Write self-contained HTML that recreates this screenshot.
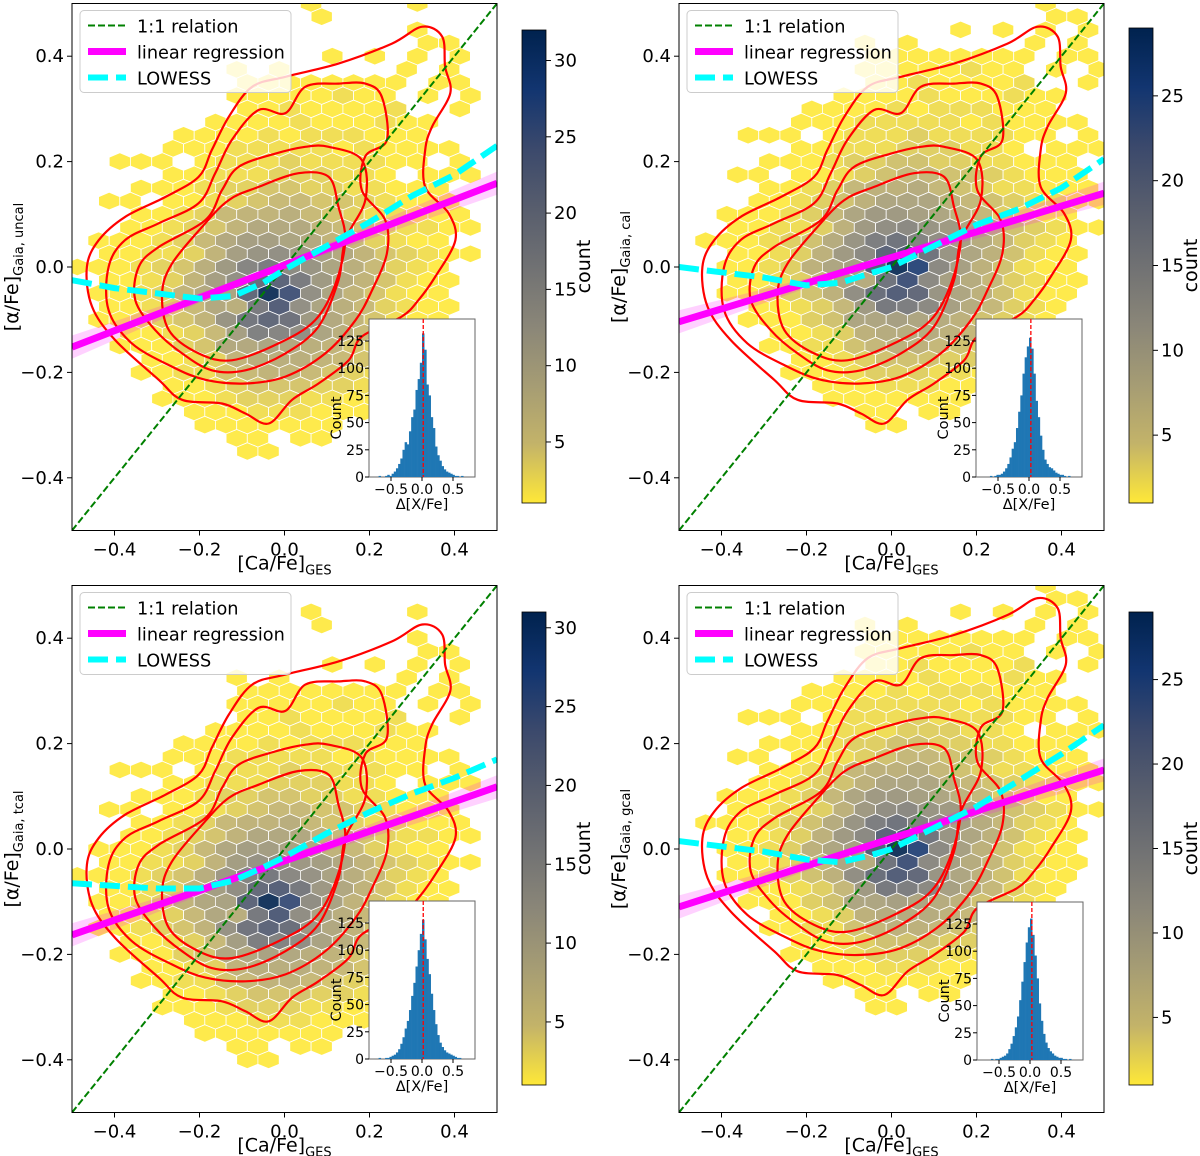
<!DOCTYPE html>
<html><head><meta charset="utf-8"><style>
html,body{margin:0;padding:0;background:#fff}
svg{display:block;font-family:"DejaVu Sans","Liberation Sans",sans-serif}
</style></head><body>
<svg id="fig" width="1200" height="1156" viewBox="0 0 1200 1156" xmlns="http://www.w3.org/2000/svg">
<defs>
<linearGradient id="cmap" x1="0" y1="1" x2="0" y2="0">
<stop offset="0" stop-color="#fee838"/><stop offset="0.125" stop-color="#c3b369"/><stop offset="0.25" stop-color="#a59c74"/><stop offset="0.375" stop-color="#8a8678"/><stop offset="0.5" stop-color="#707173"/><stop offset="0.625" stop-color="#575d6d"/><stop offset="0.75" stop-color="#3b496c"/><stop offset="0.875" stop-color="#123570"/><stop offset="1" stop-color="#00224e"/>
</linearGradient>
</defs>
</svg>
<script>
// ---- data ----
const hexRowsP1 = ["00000000000100001000","00000000000100000000","00000000000000001000","00000000000000001100","00000000000010101010","00000001010000010100","00000000111111110110","00000001111121101010","00000000112111120010","00000011112111211000","00000111121222111000","00001112222212111100","00111012223222211010","00001122233322101110","00011123344332211100","01101123455443211100","00011235667543221110","00112346888654322110","01112358aa9865321100","0112236acdba86432110","1112347bfhec97532100","011236adkmhb86421100","01123689lwpd96421100","01123587hnd975321100","0112346ciljb86421100","0011235agfd975321000","00111348898764321000","00011236777654221000","00011224566543211000","00001123444332110000","00001112333221110000","00000111222111100000","00000011111110000000","00000001101100000000","00000000110000000000","00000000000000000000","00000000000000000000","00000000000000000000","00000000000000000000","00000000000000000000","00000000000000000000"];
const hexRowsP2 = ["00000000000000000100","00000000000000000110","00000000000001010101","00000000101000001010","00000000011111111011","00000000111112110101","00000000011211112001","00000001111211121100","00000011112122211100","00000111222221211110","00011101222322221101","00000112223332210111","00001112334433221110","00110112345544321110","00001123566754322111","00011234688865432211","001112358aa986532110","00112236acdba8643211","01112347bfhec9753210","0011236adkmhb8642110","001123689ltpd9642110","001123587hnd97532110","00112346ciljb8642110","00011235agfd97532100","00011134889876432100","00001123677765422100","00001122456654321100","00000112344433211000","00000111233322111000","00000011122211110000","00000001111111000000","00000000110110000000","00000000011000000000","00000000000000000000","00000000000000000000","00000000000000000000","00000000000000000000","00000000000000000000","00000000000000000000","00000000000000000000","00000000000000000000"];
const hexRowsP3 = ["00000000000000000000","00000000000000000000","00000000000100001000","00000000000100000000","00000000000000001000","00000000000000001100","00000000000010101010","00000001010000010100","00000000111111110110","00000001111121101010","00000000112111120010","00000011112111211000","00000111121222111000","00001112222212111100","00111012223222211010","00001122233322101110","00011123344332211100","01101123455443211100","00011235667543221110","00112346888654322110","01112358aa9865321100","0112236acdba86432110","1112347bfhec97532100","011236adkmhb86421100","01123689lvpd96421100","01123587hnd975321100","0112346ciljb86421100","0011235agfd975321000","00111348898764321000","00011236777654221000","00011224566543211000","00001123444332110000","00001112333221110000","00000111222111100000","00000011111110000000","00000001101100000000","00000000110000000000","00000000000000000000","00000000000000000000","00000000000000000000","00000000000000000000"];
const hexRowsP4 = hexRowsP2;

const contourOuter = [[0.324,0.456],[0.371,0.437],[0.378,0.38],[0.39,0.33],[0.347,0.266],[0.331,0.222],[0.331,0.152],[0.386,0.102],[0.402,0.051],[0.355,-0.018],[0.316,-0.062],[0.276,-0.094],[0.182,-0.132],[0.151,-0.177],[0.08,-0.221],[0.018,-0.252],[-0.037,-0.297],[-0.092,-0.278],[-0.147,-0.259],[-0.241,-0.252],[-0.296,-0.214],[-0.398,-0.139],[-0.453,-0.075],[-0.465,0.0],[-0.437,0.051],[-0.375,0.095],[-0.28,0.133],[-0.202,0.171],[-0.171,0.222],[-0.131,0.285],[-0.076,0.342],[0.002,0.361],[0.127,0.386],[0.253,0.424]];
const contourMid = [[0.229,0.323],[0.241,0.241],[0.19,0.21],[0.182,0.146],[0.237,0.089],[0.241,0.026],[0.206,-0.044],[0.167,-0.101],[0.096,-0.164],[0.002,-0.208],[-0.092,-0.221],[-0.186,-0.214],[-0.265,-0.189],[-0.359,-0.145],[-0.414,-0.082],[-0.414,0.0],[-0.375,0.051],[-0.296,0.083],[-0.202,0.121],[-0.163,0.178],[-0.124,0.241],[-0.061,0.298],[0.002,0.292],[0.049,0.342],[0.127,0.348],[0.19,0.348]];
const contourThird = [[0.104,0.228],[0.182,0.203],[0.19,0.127],[0.143,0.051],[0.127,-0.025],[0.08,-0.113],[0.002,-0.164],[-0.092,-0.196],[-0.171,-0.196],[-0.241,-0.164],[-0.304,-0.12],[-0.351,-0.063],[-0.343,0.0],[-0.296,0.038],[-0.186,0.089],[-0.147,0.146],[-0.108,0.19],[-0.022,0.215],[0.049,0.228]];
const contourInner = [[0.104,0.171],[0.127,0.114],[0.143,0.051],[0.12,-0.032],[0.072,-0.101],[-0.014,-0.145],[-0.124,-0.177],[-0.202,-0.164],[-0.272,-0.12],[-0.288,-0.05],[-0.265,0.006],[-0.194,0.076],[-0.131,0.127],[-0.061,0.152],[0.033,0.178]];

const regEndsP1 = [-0.152, 0.159];
const regEndsP2 = [-0.104, 0.14];
const regEndsP3 = [-0.163, 0.118];
const regEndsP4 = [-0.11, 0.15];
const lowessX = [-0.5,-0.4,-0.3,-0.2,-0.12,-0.05,0.0,0.1,0.2,0.3,0.4,0.5];
const lowessP1 = [-0.025,-0.04,-0.05,-0.06,-0.055,-0.03,-0.005,0.04,0.085,0.135,0.175,0.23];
const lowessP2 = [0.0,-0.01,-0.02,-0.035,-0.03,-0.012,0.0,0.04,0.08,0.11,0.15,0.205];
const lowessP3 = [-0.065,-0.07,-0.075,-0.075,-0.06,-0.035,-0.015,0.03,0.07,0.105,0.135,0.17];
const lowessP4 = [0.015,0.005,-0.005,-0.02,-0.025,-0.012,0.0,0.04,0.08,0.13,0.18,0.235];

const histCountsP1 = [1,0,0,1,2,1,3,5,8,12,17,25,32,30,42,55,62,80,90,105,132,117,85,75,55,45,28,20,15,10,7,5,4,3,2,1,1,0,1,0];
const histCountsP2 = [0,0,1,0,1,2,2,3,5,8,12,18,26,32,45,60,75,95,110,120,128,118,95,70,55,38,25,16,12,9,8,6,4,3,2,2,1,0,1,0];
const histCountsP3 = [1,0,0,1,1,2,3,4,6,9,14,20,28,35,45,58,70,85,100,115,128,110,92,78,60,45,32,22,15,11,8,6,5,4,3,2,1,1,0,0];
const histCountsP4 = [0,0,1,0,1,1,2,3,4,6,10,15,22,30,40,55,72,90,108,122,130,115,96,75,52,36,24,16,11,8,6,4,3,2,2,1,1,0,1,0];
const histMeans = [0.02, 0.03, 0.02, 0.03];
const xTicks = [-0.4,-0.2,0.0,0.2,0.4];
const xTickLabels = ["\u22120.4","\u22120.2","0.0","0.2","0.4"];
const yTicks = [-0.4,-0.2,0.0,0.2,0.4];
const yTickLabels = ["\u22120.4","\u22120.2","0.0","0.2","0.4"];
const histYTicks = [0,25,50,75,100,125];
const histXTicks = [-0.5,0.0,0.5];
const histXTickLabels = ["\u22120.5","0.0","0.5"];

// ---- layout ----
const NS = "http://www.w3.org/2000/svg";
const svg = document.getElementById('fig');
function mk(tag, attrs, parent) {
  const e = document.createElementNS(NS, tag);
  for (const k in attrs) e.setAttribute(k, attrs[k]);
  (parent || svg).appendChild(e);
  return e;
}
const cmapStops = ["#fee838","#c3b369","#a59c74","#8a8678","#707173","#575d6d","#3b496c","#123570","#00224e"];
function hex2rgb(h){return [parseInt(h.substr(1,2),16),parseInt(h.substr(3,2),16),parseInt(h.substr(5,2),16)];}
function cmap(t){
  t=Math.max(0,Math.min(1,t));
  const p=t*(cmapStops.length-1), i=Math.min(Math.floor(p),cmapStops.length-2), f=p-i;
  const a=hex2rgb(cmapStops[i]), b=hex2rgb(cmapStops[i+1]);
  return 'rgb('+a.map((v,j)=>Math.round(v+(b[j]-v)*f)).join(',')+')';
}
function charCount(c){ if(c>='0'&&c<='9') return +c; return c.charCodeAt(0)-87; }
function catmull(pts){
  let d='';
  const n=pts.length;
  for(let i=0;i<n;i++){
    const p0=pts[(i-1+n)%n],p1=pts[i],p2=pts[(i+1)%n],p3=pts[(i+2)%n];
    if(i===0) d+='M'+p1[0].toFixed(1)+','+p1[1].toFixed(1);
    const c1=[p1[0]+(p2[0]-p0[0])/6,p1[1]+(p2[1]-p0[1])/6];
    const c2=[p2[0]-(p3[0]-p1[0])/6,p2[1]-(p3[1]-p1[1])/6];
    d+='C'+c1[0].toFixed(1)+','+c1[1].toFixed(1)+' '+c2[0].toFixed(1)+','+c2[1].toFixed(1)+' '+p2[0].toFixed(1)+','+p2[1].toFixed(1);
  }
  return d+'Z';
}

const panels = [
 {left:72, top:3.5, rows:hexRowsP1, vmax:32, cbX:522, cbTop:30, cbBot:503, cbTicks:[5,10,15,20,25,30], sub:'Gaia, uncal', reg:regEndsP1, low:lowessP1, hist:histCountsP1, cdx:0, cdy:0, inL:369, inT:319},
 {left:679, top:3.5, rows:hexRowsP2, vmax:29, cbX:1129, cbTop:28, cbBot:503, cbTicks:[5,10,15,20,25], sub:'Gaia, cal', reg:regEndsP2, low:lowessP2, hist:histCountsP2, cdx:0.02, cdy:0.0, inL:976, inT:319},
 {left:72, top:585.5, rows:hexRowsP3, vmax:31, cbX:522, cbTop:612, cbBot:1085, cbTicks:[5,10,15,20,25,30], sub:'Gaia, tcal', reg:regEndsP3, low:lowessP3, hist:histCountsP3, cdx:0.0, cdy:-0.03, inL:369, inT:901},
 {left:679, top:585.5, rows:hexRowsP4, vmax:29, cbX:1129, cbTop:612, cbBot:1085, cbTicks:[5,10,15,20,25], sub:'Gaia, gcal', reg:regEndsP4, low:lowessP4, hist:histCountsP4, cdx:0.02, cdy:0.02, inL:977, inT:902}
];
const W=425, H=527;

panels.forEach((P,pi)=>{
  const g = mk('g',{});
  
  
  const sx = v => P.left + (v+0.5)*W;
  const sy = v => P.top + (0.5-v)*H;
  const clipId='clip'+pi;
  const cp=mk('clipPath',{id:clipId},g);
  mk('rect',{x:P.left,y:P.top,width:W,height:H},cp);
  const plot=mk('g',{'clip-path':'url(#'+clipId+')'},g);
  
  
  const R=0.025*H/1.5, hw=0.025*W;
  P.rows.forEach((row,i)=>{
    const r=22-i;
    const yv=-0.05+0.025*r;
    const x0=(r%2===0)?-0.4875:-0.4625;
    for(let k=0;k<row.length;k++){
      const c=charCount(row[k]);
      if(c<=0) continue;
      const cx=sx(x0+0.05*k), cy=sy(yv);
      const pts=[[cx,cy-R],[cx+hw,cy-R/2],[cx+hw,cy+R/2],[cx,cy+R],[cx-hw,cy+R/2],[cx-hw,cy-R/2]].map(p=>p[0].toFixed(1)+','+p[1].toFixed(1)).join(' ');
      const h=mk('polygon',{points:pts,fill:cmap((c-1)/(P.vmax-1)),stroke:'#fff','stroke-width':0.8,'fill-opacity':0.9},plot);
      
      
    }
  });
  const bandW=[0.022,0.004,0.022];
  const bx=[-0.5,-0.08,0.5];
  const regY = x => P.reg[0]+(x+0.5)*(P.reg[1]-P.reg[0]);
  const up=bx.map((x,j)=>sx(x)+','+sy(regY(x)+bandW[j]));
  const dn=bx.slice().reverse().map((x,j)=>sx(x)+','+sy(regY(x)-bandW[bandW.length-1-j]));
  const band=mk('polygon',{points:up.concat(dn).join(' '),fill:'#ff00ff','fill-opacity':0.18},plot);
  
  
  [contourOuter,contourMid,contourThird,contourInner].forEach((C,ci)=>{
    const pts=C.map(p=>[sx(p[0]+P.cdx),sy(p[1]+P.cdy)]);
    const c=mk('path',{d:catmull(pts),fill:'none',stroke:'#ff0000','stroke-width':2.2},plot);
    
    
  });
  const l1=mk('line',{x1:sx(-0.5),y1:sy(-0.5),x2:sx(0.5),y2:sy(0.5),stroke:'#008000','stroke-width':2,'stroke-dasharray':'7,3'},plot);
  
  
  const rl=mk('line',{x1:sx(-0.5),y1:sy(P.reg[0]),x2:sx(0.5),y2:sy(P.reg[1]),stroke:'#ff00ff','stroke-width':7},plot);
  
  
  const lw=mk('polyline',{points:lowessX.map((x,j)=>sx(x).toFixed(1)+','+sy(P.low[j]).toFixed(1)).join(' '),fill:'none',stroke:'#00ffff','stroke-width':6,'stroke-dasharray':'20,8'},plot);
  
  
  const fr=mk('rect',{x:P.left,y:P.top,width:W,height:H,fill:'none',stroke:'#000','stroke-width':1},g);
  
  
  xTicks.forEach((t,j)=>{
    mk('line',{x1:sx(t),x2:sx(t),y1:P.top+H,y2:P.top+H+5,stroke:'#000'},g);
    const tx=mk('text',{x:sx(t),y:P.top+H+25,'font-size':18,'text-anchor':'middle'},g);
    tx.textContent=xTickLabels[j];
    
    
  });
  yTicks.forEach((t,j)=>{
    mk('line',{x1:P.left-5,x2:P.left,y1:sy(t),y2:sy(t),stroke:'#000'},g);
    const tx=mk('text',{x:P.left-8,y:sy(t)+6,'font-size':18,'text-anchor':'end'},g);
    tx.textContent=yTickLabels[j];
    
    
  });
  const xl=mk('text',{x:P.left+W/2,y:P.top+H+39,'font-size':19,'text-anchor':'middle'},g);
  
  
  xl.appendChild(document.createTextNode('[Ca/Fe]'));
  const xs=mk('tspan',{'font-size':13,dy:5},xl); xs.textContent='GES';
  const ycx=P.left-54, ycy=P.top+H/2;
  const yl=mk('text',{x:ycx,y:ycy,'font-size':19,'text-anchor':'middle',transform:'rotate(-90 '+ycx+' '+ycy+')'},g);
  
  
  yl.appendChild(document.createTextNode('[\u03b1/Fe]'));
  const ys=mk('tspan',{'font-size':13,dy:5},yl); ys.textContent=P.sub;
  const lg=mk('g',{},g);
  
  
  const L=P.left+8, T=P.top+7;
  mk('rect',{x:L,y:T,width:211,height:82,rx:4,fill:'#fff','fill-opacity':0.8,stroke:'#ccc'},lg);
  const entries=[['1:1 relation','#008000',2,'7,3'],['linear regression','#ff00ff',7,''],['LOWESS','#00ffff',6,'20,8']];
  entries.forEach((e,j)=>{
    const yy=T+15+j*26;
    const ln=mk('line',{x1:L+8,x2:L+46,y1:yy,y2:yy,stroke:e[1],'stroke-width':e[2]},lg);
    if(e[3]) ln.setAttribute('stroke-dasharray',e[3]);
    const tt=mk('text',{x:L+57,y:yy+7,'font-size':17.7},lg);
    tt.textContent=e[0];
    
    
  });
  const cb=mk('g',{},g);
  
  
  mk('rect',{x:P.cbX,y:P.cbTop,width:24,height:P.cbBot-P.cbTop,fill:'url(#cmap)',stroke:'#000','stroke-width':0.8},cb);
  P.cbTicks.forEach(v=>{
    const yy=P.cbBot-(v-1)/(P.vmax-1)*(P.cbBot-P.cbTop);
    mk('line',{x1:P.cbX+24,x2:P.cbX+29,y1:yy,y2:yy,stroke:'#000'},cb);
    const tt=mk('text',{x:P.cbX+32,y:yy+6,'font-size':18},cb);
    tt.textContent=v;
    
    
  });
  const clx=P.cbX+68, cly=(P.cbTop+P.cbBot)/2;
  const ctl=mk('text',{x:clx,y:cly,'font-size':19,'text-anchor':'middle',transform:'rotate(-90 '+clx+' '+cly+')'},cb);
  ctl.textContent='count';
  
  
  const ig=mk('g',{},g);
  
  
  const iw=106, ih=158, il=P.inL, it=P.inT;
  const hx=v=>il+iw/2+v*62;
  const hy=v=>it+ih-v*1.088;
  mk('rect',{x:il,y:it,width:iw,height:ih,fill:'#fff',stroke:'#666','stroke-width':1},ig);
  const bw=0.035;
  P.hist.forEach((c,j)=>{
    if(c<=0) return;
    const x0=-0.7+j*bw;
    const b=mk('rect',{x:hx(x0),y:hy(c),width:bw*62+0.3,height:hy(0)-hy(c),fill:'#1f77b4'},ig);
    
    
  });
  const ml=mk('line',{x1:hx(histMeans[pi]),x2:hx(histMeans[pi]),y1:it,y2:it+ih,stroke:'#ff0000','stroke-width':1.3,'stroke-dasharray':'4,2'},ig);
  
  
  histYTicks.forEach(v=>{
    mk('line',{x1:il-4,x2:il,y1:hy(v),y2:hy(v),stroke:'#000'},ig);
    const tt=mk('text',{x:il-5,y:hy(v)+5,'font-size':14,'text-anchor':'end'},ig);
    tt.textContent=v;
  });
  histXTicks.forEach((v,j)=>{
    mk('line',{x1:hx(v),x2:hx(v),y1:it+ih,y2:it+ih+4,stroke:'#000'},ig);
    const tt=mk('text',{x:hx(v),y:it+ih+17,'font-size':14,'text-anchor':'middle'},ig);
    tt.textContent=histXTickLabels[j];
  });
  const hxl=mk('text',{x:il+iw/2,y:it+ih+32,'font-size':14.5,'text-anchor':'middle'},ig);
  hxl.textContent='\u0394[X/Fe]';
  const hcx=il-33, hcy=it+ih/2+20;
  const hyl=mk('text',{x:hcx,y:hcy+5,'font-size':14.5,'text-anchor':'middle',transform:'rotate(-90 '+hcx+' '+hcy+')'},ig);
  hyl.textContent='Count';
});
</script>
</body></html>
